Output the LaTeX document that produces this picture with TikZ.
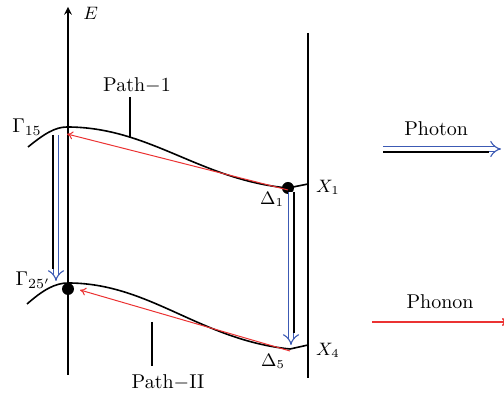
\documentclass[tikz,border=0pt]{standalone}
\usetikzlibrary{arrows.meta}
\definecolor{photonblue}{RGB}{60,90,180}
\definecolor{phononred}{RGB}{235,50,50}
\tikzset{
  band/.style={line width=0.8pt},
  phonon/.style={phononred,line width=0.5pt,-{To[length=3pt,width=4pt]}},
  photon/.style={draw=photonblue,double=white,double distance=2.3pt,line width=0.55pt,-{Implies}},
}
\begin{document}
\begin{tikzpicture}[x=0.5pt,y=-0.5pt,>=stealth]
	\useasboundingbox (0,0) rectangle (504,394);
	% axes
	\draw[->,line width=0.7pt] (68,375)--(68,7) node[right,xshift=4pt,yshift=-3pt]{\small$E$};
	\draw[line width=0.7pt] (308,33)--(308,378);
	% points
	\coordinate (G15) at (67,127);
	\coordinate (G25) at (68,289);
	\coordinate (D1) at (288,188);
	\coordinate (D5) at (290,349);
	\coordinate (X1) at (308,184);
	\coordinate (X4) at (308,345);
	% bands
	\draw[band] (28,147) .. controls (44,134) and (55,127) .. (G15)
		.. controls (150,127) and (200,180) .. (D1) -- (X1);
	\draw[band] (27,304) .. controls (43,290) and (55,283) .. (68,283)
		.. controls (150,283) and (200,340) .. (D5) -- (X4);
	\fill (D1) circle(3pt) (G25) circle(3pt);
	% labels
	\node (lG15) at (27,127) {$\Gamma_{15}$};
	\node (lG25) at (33,280) {$\Gamma_{25'}$};
	\node (lD1) at (272,199) {\small$\Delta_1$};
	\node (lD5) at (273,361) {\small$\Delta_5$};
	\node (lX1) at (328,187) {\small$X_1$};
	\node (lX4) at (328,350) {\small$X_4$};
	\node (p1) at (137,85) {Path$-$1};
	\node (p2) at (168,382) {Path$-$II};
	\coordinate (p1e) at (130,138);
	\coordinate (p2e) at (152,322);
	\draw[line width=0.7pt] (130,97)--(p1e);
	\draw[line width=0.7pt] (p2e)--(152,366);
	% phonon transitions
	\draw[phonon] ([yshift=-1pt]D1)--(67,134);
	\draw[phonon] ([yshift=-1pt]D5)--(80,290);
	% photon transitions
	\coordinate (a1) at (56,135);
	\coordinate (a2) at (56,281);
	\coordinate (b1) at (291,192);
	\coordinate (b2) at (291,345);
	\draw[photon] (a1)--(a2);
	\draw[black,line width=0.75pt,shorten >=6pt] ([xshift=-1.45pt]a1)--([xshift=-1.45pt]a2);
	\draw[photon] (b1)--(b2);
	\draw[black,line width=0.75pt,shorten >=6pt] ([xshift=1.45pt]b1)--([xshift=1.45pt]b2);
	% legend
	\coordinate (c1) at (383,149);
	\coordinate (c2) at (501,149);
	\draw[photon] (c1)--(c2) node[pos=0.45,above=3pt,text=black]{Photon};
	\draw[black,line width=0.75pt,shorten >=6pt] ([yshift=-1.45pt]c1)--([yshift=-1.45pt]c2);
	\coordinate (d1) at (372,322);
	\coordinate (d2) at (508,322);
	\draw[phonon,line width=0.8pt] (d1)--(d2) node[pos=0.5,above=3pt,text=black]{Phonon};
\end{tikzpicture}
\end{document}
